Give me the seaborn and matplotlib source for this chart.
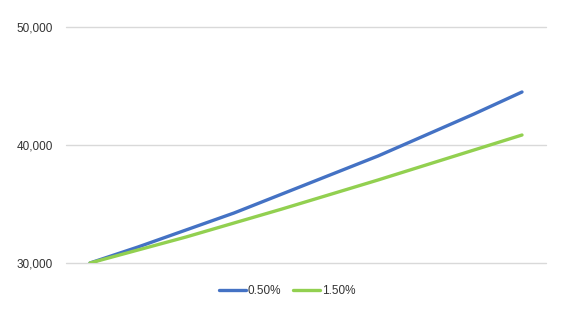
import matplotlib
matplotlib.use("Agg")
import matplotlib.pyplot as plt
import seaborn as sns
import pandas as pd
from matplotlib.ticker import FuncFormatter

periods = list(range(10))
series_names = ["0.50%", "1.50%"]
values_050 = [30000, 31356, 32797, 34237, 35847, 37458, 39068, 40847, 42627, 44492]
values_150 = [30000, 31102, 32203, 33390, 34576, 35805, 37034, 38305, 39576, 40847]
yticks = [30000, 40000, 50000]
colors = ["#4472C4", "#92D050"]

df = pd.DataFrame({
    "period": periods * 2,
    "value": values_050 + values_150,
    "series": [series_names[0]] * len(periods) + [series_names[1]] * len(periods),
})

sns.set_theme(style="white")
plt.rcParams["font.family"] = ["Liberation Sans", "DejaVu Sans"]

fig = plt.figure(figsize=(5.68, 3.16), dpi=100)
ax = fig.add_axes([66/568, 1-263/316, 480/568, 236/316])

sns.lineplot(data=df, x="period", y="value", hue="series", palette=colors,
             linewidth=2.4, ax=ax, legend=True)

ax.set_xlim(-0.5, 9.5)
ax.set_ylim(30000, 50000)
ax.set_yticks(yticks)
ax.yaxis.set_major_formatter(FuncFormatter(lambda v, p: f"{int(v):,}"))
ax.set_xticks([])
ax.set_xlabel("")
ax.set_ylabel("")
ax.grid(axis="y", color="#d9d9d9", linewidth=1)
ax.set_axisbelow(True)
for gl in ax.get_ygridlines():
    gl.set_clip_on(False)
for s in ax.spines.values():
    s.set_visible(False)
ax.tick_params(axis="y", length=0, pad=9.5, labelsize=8.5, labelcolor="#333333")

handles, labels = ax.get_legend_handles_labels()
ax.legend(handles, labels, loc="center", bbox_to_anchor=(287/568, 1-291/316),
          bbox_transform=fig.transFigure, ncol=2, frameon=False,
          fontsize=8.5, handlelength=2.3, handletextpad=0.15, columnspacing=1.0,
          labelcolor="#333333")

fig.savefig("out.png", dpi=100)
